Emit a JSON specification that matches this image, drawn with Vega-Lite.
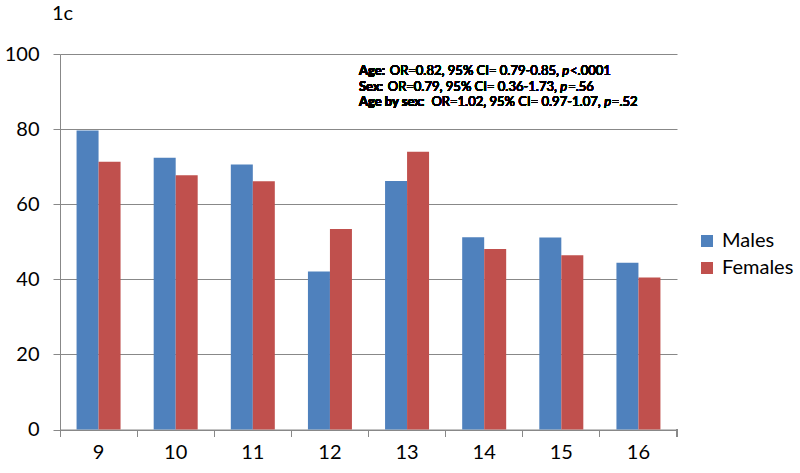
{
  "$schema": "https://vega.github.io/schema/vega-lite/v6.json",
  "width": 617,
  "height": 375.5,
  "autosize": "none",
  "padding": {"left": 60, "top": 54, "right": 123, "bottom": 43.5},
  "background": "white",
  "config": {"view": {"stroke": null}, "font": "Lato"},
  "title": {"text": "1c", "anchor": "start", "frame": "group", "dx": -8, "offset": 20, "fontSize": 20, "fontWeight": "normal", "font": "Lato", "color": "#000"},
  "data": {"values": [
    {"age": "9", "sex": "Males", "pct": 79.6}, {"age": "9", "sex": "Females", "pct": 71.3},
    {"age": "10", "sex": "Males", "pct": 72.4}, {"age": "10", "sex": "Females", "pct": 67.7},
    {"age": "11", "sex": "Males", "pct": 70.6}, {"age": "11", "sex": "Females", "pct": 66.1},
    {"age": "12", "sex": "Males", "pct": 42.1}, {"age": "12", "sex": "Females", "pct": 53.4},
    {"age": "13", "sex": "Males", "pct": 66.2}, {"age": "13", "sex": "Females", "pct": 74.0},
    {"age": "14", "sex": "Males", "pct": 51.2}, {"age": "14", "sex": "Females", "pct": 48.1},
    {"age": "15", "sex": "Males", "pct": 51.1}, {"age": "15", "sex": "Females", "pct": 46.4},
    {"age": "16", "sex": "Males", "pct": 44.4}, {"age": "16", "sex": "Females", "pct": 40.5}
  ]},
  "layer": [
    {
      "mark": {"type": "bar"},
      "encoding": {
        "x": {"field": "age", "type": "ordinal", "sort": null,
          "scale": {"paddingInner": 0, "paddingOuter": 0},
          "axis": {"title": null, "labelAngle": 0, "labelFontSize": 20, "labelColor": "#000", "labelPadding": 6,
            "bandPosition": 0, "tickSize": 7, "tickColor": "#888", "domainColor": "#888", "grid": false, "labelBaseline": "top"}},
        "xOffset": {"field": "sex", "type": "nominal", "sort": ["Males", "Females"],
          "scale": {"paddingInner": 0, "paddingOuter": 0.753}},
        "y": {"field": "pct", "type": "quantitative",
          "scale": {"domain": [0, 100], "nice": false},
          "axis": {"title": null, "values": [0, 20, 40, 60, 80, 100], "labelFontSize": 20, "labelColor": "#000", "labelPadding": 14,
            "tickSize": 7, "tickColor": "#888", "domainColor": "#888", "gridColor": "#888", "grid": true}},
        "color": {"field": "sex", "type": "nominal", "sort": ["Males", "Females"],
          "scale": {"domain": ["Males", "Females"], "range": ["#4F81BD", "#C0504D"]},
          "legend": {"title": null, "orient": "none", "legendX": 637, "legendY": 177, "padding": 0,
            "symbolType": "square", "symbolSize": 144, "symbolStrokeWidth": 0, "labelFontSize": 20, "labelColor": "#000",
            "labelOffset": 5, "rowPadding": 7, "labelFont": "Lato"}}
      }
    },
    {
      "mark": {"type": "rule", "color": "#888", "clip": false},
      "encoding": {"x": {"datum": "16", "bandPosition": 1}, "y": {"datum": 0}, "y2": {"datum": -1.9}}
    },
    {"mark": {"type": "text", "align": "left", "baseline": "middle", "fontSize": 13, "fontWeight": "bold", "dx": 29},
     "encoding": {"x": {"datum": "12"}, "y": {"datum": 95.5}, "text": {"value": "Age:"}}},
    {"mark": {"type": "text", "align": "left", "baseline": "middle", "fontSize": 13, "dx": 59.8},
     "encoding": {"x": {"datum": "12"}, "y": {"datum": 95.5}, "text": {"value": "OR=0.82, 95% CI= 0.79-0.85,"}}},
    {"mark": {"type": "text", "align": "left", "baseline": "middle", "fontSize": 13, "fontStyle": "italic", "dx": 232.4},
     "encoding": {"x": {"datum": "12"}, "y": {"datum": 95.5}, "text": {"value": "p"}}},
    {"mark": {"type": "text", "align": "left", "baseline": "middle", "fontSize": 13, "dx": 240.1},
     "encoding": {"x": {"datum": "12"}, "y": {"datum": 95.5}, "text": {"value": "<.0001"}}},
    {"mark": {"type": "text", "align": "left", "baseline": "middle", "fontSize": 13, "fontWeight": "bold", "dx": 29},
     "encoding": {"x": {"datum": "12"}, "y": {"datum": 91.3}, "text": {"value": "Sex:"}}},
    {"mark": {"type": "text", "align": "left", "baseline": "middle", "fontSize": 13, "dx": 57.8},
     "encoding": {"x": {"datum": "12"}, "y": {"datum": 91.3}, "text": {"value": "OR=0.79, 95% CI= 0.36-1.73,"}}},
    {"mark": {"type": "text", "align": "left", "baseline": "middle", "fontSize": 13, "fontStyle": "italic", "dx": 230.4},
     "encoding": {"x": {"datum": "12"}, "y": {"datum": 91.3}, "text": {"value": "p"}}},
    {"mark": {"type": "text", "align": "left", "baseline": "middle", "fontSize": 13, "dx": 238.2},
     "encoding": {"x": {"datum": "12"}, "y": {"datum": 91.3}, "text": {"value": "=.56"}}},
    {"mark": {"type": "text", "align": "left", "baseline": "middle", "fontSize": 13, "fontWeight": "bold", "dx": 29},
     "encoding": {"x": {"datum": "12"}, "y": {"datum": 87.1}, "text": {"value": "Age by sex:"}}},
    {"mark": {"type": "text", "align": "left", "baseline": "middle", "fontSize": 13, "dx": 101.5},
     "encoding": {"x": {"datum": "12"}, "y": {"datum": 87.1}, "text": {"value": "OR=1.02, 95% CI= 0.97-1.07,"}}},
    {"mark": {"type": "text", "align": "left", "baseline": "middle", "fontSize": 13, "fontStyle": "italic", "dx": 274.2},
     "encoding": {"x": {"datum": "12"}, "y": {"datum": 87.1}, "text": {"value": "p"}}},
    {"mark": {"type": "text", "align": "left", "baseline": "middle", "fontSize": 13, "dx": 281.9},
     "encoding": {"x": {"datum": "12"}, "y": {"datum": 87.1}, "text": {"value": "=.52"}}}
  ]
}
